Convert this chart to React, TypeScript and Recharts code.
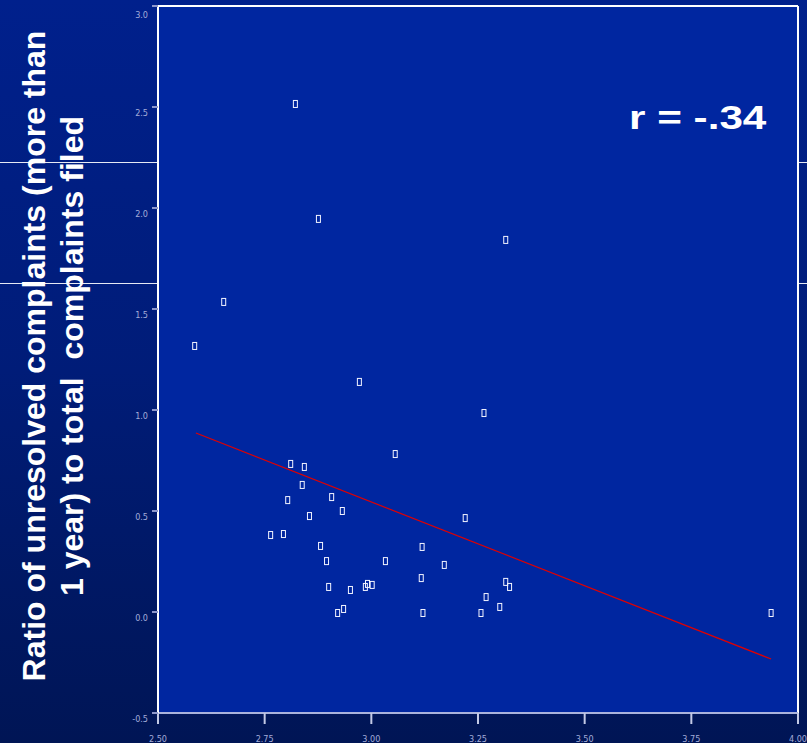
import React from 'react';
import {
  ScatterChart,
  Scatter,
  XAxis,
  YAxis,
  CartesianGrid,
  ReferenceLine
} from 'recharts';

// GPA-ish x value vs. ratio of unresolved complaints
const xValues = [
  2.586, 2.654, 2.822, 2.876, 3.315, 2.972, 3.264, 3.056, 2.811, 2.843,
  2.838, 2.804, 2.907, 2.932, 2.855, 3.22, 2.764, 2.794, 2.881, 2.895,
  3.033, 3.119, 3.171, 3.117, 2.9, 2.951, 2.991, 2.986, 3.002, 2.921,
  2.935, 3.121, 3.257, 3.269, 3.301, 3.315, 3.324, 3.937
];
const yValues = [
  1.317, 1.535, 2.515, 1.946, 1.842, 1.139, 0.985, 0.782, 0.733, 0.718,
  0.629, 0.554, 0.569, 0.5, 0.475, 0.465, 0.381, 0.386, 0.327, 0.252,
  0.252, 0.322, 0.233, 0.168, 0.124, 0.109, 0.139, 0.124, 0.134, -0.005,
  0.015, -0.005, -0.005, 0.074, 0.025, 0.149, 0.124, -0.005
];

// fitted regression line end points
const fitX = [2.589, 3.937];
const fitY = [0.886, -0.233];

const xTicks = [2.5, 2.75, 3.0, 3.25, 3.5, 3.75, 4.0];
const yTicks = [-0.5, 0.0, 0.5, 1.0, 1.5, 2.0, 2.5, 3.0];

const titleLines = [
  'Ratio of unresolved complaints (more than',
  '1 year) to total  complaints filed'
];
const rLabel = 'r = -.34';

const points = xValues.map((x, i) => ({ x, y: yValues[i] }));
const fitLine = fitX.map((x, i) => ({ x, y: fitY[i] }));

const tickFont = '"Liberation Sans Narrow", "DejaVu Sans Condensed", sans-serif';

const Marker = (props: any) => {
  const { cx, cy } = props;
  if (cx == null || cy == null) return <g />;
  return (
    <rect x={cx - 2} y={cy - 3.5} width={4} height={7} fill="none" stroke="#f2f4ff" strokeWidth={1} />
  );
};

const YTick = (props: any) => {
  const { x, y, payload } = props;
  return (
    <text x={x} y={y + 9} textAnchor="end" fontSize={9} fill="#a3acd9" fontFamily={tickFont}>
      {Number(payload.value).toFixed(1)}
    </text>
  );
};

const XTick = (props: any) => {
  const { x, y, payload } = props;
  return (
    <text x={x} y={y + 18} textAnchor="middle" fontSize={9} fill="#a3acd9" fontFamily={tickFont}>
      {Number(payload.value).toFixed(2)}
    </text>
  );
};

const AxisTitle = () => (
  <g
    fontFamily='"Liberation Sans", Arial, sans-serif'
    fontWeight="bold"
    fontSize={32}
    fill="#ffffff"
    style={{ whiteSpace: 'pre' }}
  >
    <text transform="translate(45,356) rotate(-90)" textAnchor="middle" xmlSpace="preserve">{titleLines[0]}</text>
    <text transform="translate(83,356) rotate(-90)" textAnchor="middle" xmlSpace="preserve">{titleLines[1]}</text>
  </g>
);

const App: React.FC = () => {
  return (
    <div
      style={{
        position: 'absolute',
        left: 0,
        top: 0,
        width: 807,
        height: 743,
        overflow: 'hidden',
        background: 'linear-gradient(to bottom, #00208c 0%, #001c78 50%, #001555 100%)'
      }}
    >
      {/* slide decoration lines */}
      <div style={{ position: 'absolute', left: 0, top: 162, width: 807, height: 1, background: '#e6e9f4' }} />
      <div style={{ position: 'absolute', left: 0, top: 283, width: 807, height: 1, background: '#e6e9f4' }} />

      <div style={{ position: 'absolute', left: 0, top: 0 }}>
        <ScatterChart width={807} height={743} margin={{ top: 6, right: 9, bottom: 0, left: 0 }}>
          <CartesianGrid horizontal={false} vertical={false} fill="#0026a0" />
          <XAxis
            type="number"
            dataKey="x"
            domain={[2.5, 4]}
            ticks={xTicks}
            height={30}
            tickSize={11}
            tickMargin={0}
            axisLine={{ stroke: '#aab3dc', strokeWidth: 2 }}
            tickLine={{ stroke: '#c3cae6', strokeWidth: 2 }}
            tick={<XTick />}
            allowDataOverflow
          />
          <YAxis
            type="number"
            dataKey="y"
            domain={[-0.5, 3]}
            ticks={yTicks}
            width={158}
            tickSize={6}
            tickMargin={4}
            axisLine={{ stroke: '#ffffff', strokeWidth: 2 }}
            tickLine={{ stroke: '#8f98cc', strokeWidth: 2 }}
            tick={<YTick />}
            allowDataOverflow
          />
          <ReferenceLine y={3} stroke="#ffffff" strokeWidth={2} />
          <ReferenceLine x={4} stroke="#ffffff" strokeWidth={2} />
          <Scatter
            data={fitLine}
            line={{ stroke: '#e00000', strokeWidth: 1.2 }}
            shape={() => <g />}
            isAnimationActive={false}
          />
          <Scatter data={points} shape={<Marker />} isAnimationActive={false} />
          <AxisTitle />
        </ScatterChart>
      </div>

      <div
        style={{
          position: 'absolute',
          left: 629,
          top: 98,
          fontFamily: '"Liberation Sans", Arial, sans-serif',
          fontWeight: 'bold',
          fontSize: 33,
          lineHeight: '40px',
          color: '#ffffff',
          whiteSpace: 'nowrap',
          transform: 'scaleX(1.28)',
          transformOrigin: 'left top'
        }}
      >
        {rLabel}
      </div>
    </div>
  );
};

export default App;
